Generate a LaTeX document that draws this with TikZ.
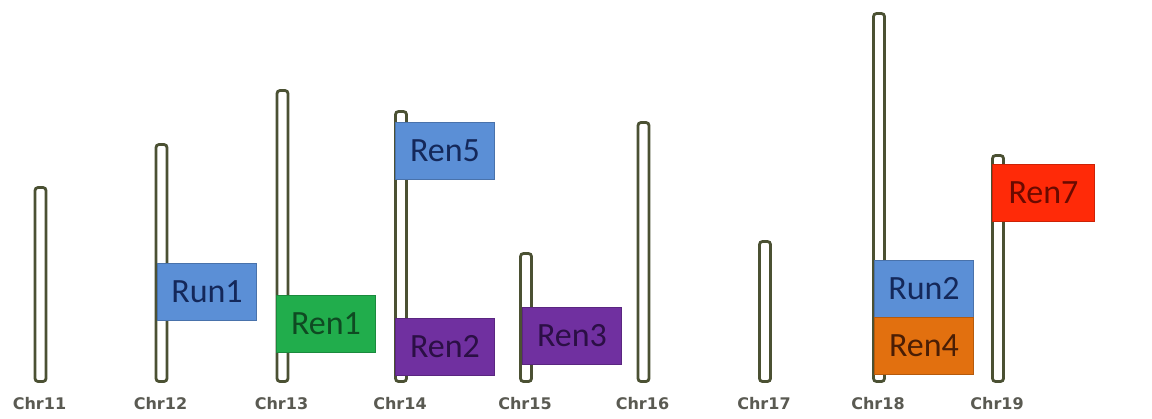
\documentclass[tikz,border=0pt]{standalone}
\usepackage{fontspec}
\newfontfamily\boxfont{Carlito}
\newfontfamily\lblfont{DejaVu Sans}
\definecolor{chromline}{HTML}{4B5133}
\definecolor{lblgray}{HTML}{5A5A52}
\definecolor{cblue}{HTML}{5B8FD6}
\definecolor{cbluetxt}{HTML}{14285A}
\definecolor{cgreen}{HTML}{21AD4C}
\definecolor{cgreentxt}{HTML}{0F4A22}
\definecolor{cpurple}{HTML}{7030A0}
\definecolor{cpurpletxt}{HTML}{2B0F45}
\definecolor{corange}{HTML}{E2700F}
\definecolor{corangetxt}{HTML}{4A1E05}
\definecolor{cred}{HTML}{FF2A08}
\definecolor{credtxt}{HTML}{6A0A00}
\tikzset{
  chrom/.style={draw=chromline, fill=white, line width=2.8pt, rounded corners=3pt,
    minimum width=11pt, inner sep=0pt},
  chrlabel/.style={font=\lblfont\bfseries\fontsize{16}{16}\selectfont, text=lblgray, inner sep=0pt},
  flagbox/.style={anchor=north west, minimum width=99pt, minimum height=57pt, inner sep=0pt,
    font=\boxfont\fontsize{34}{34}\selectfont, line width=1pt},
  fblue/.style={flagbox, fill=cblue, draw=cblue!80!black, text=cbluetxt},
  fgreen/.style={flagbox, fill=cgreen, draw=cgreen!80!black, text=cgreentxt},
  fpurple/.style={flagbox, fill=cpurple, draw=cpurple!80!black, text=cpurpletxt},
  forange/.style={flagbox, fill=corange, draw=corange!80!black, text=corangetxt},
  fred/.style={flagbox, fill=cred, draw=cred!80!black, text=credtxt},
}
\newcommand{\chromosome}[4]{% name, x centre, top, label
  \pgfmathsetmacro{\chh}{383-#3-3}
  \pgfmathsetmacro{\chy}{(#3+383)/2}
  \node[chrom, minimum height=\chh pt] (#1) at (#2,\chy) {};
  \node[chrlabel] (#1lbl) at (#2-1,403.5) {#4};
}
\begin{document}
\begin{tikzpicture}[x=1pt, y=-1pt]
\useasboundingbox (0,0) rectangle (1152,418);
\fill[white] (0,0) rectangle (1152,418);
% chromosomes
\chromosome{c11}{40.5}{186}{Chr11}
\chromosome{c12}{161.5}{143}{Chr12}
\chromosome{c13}{282.5}{89}{Chr13}
\chromosome{c14}{401}{110}{Chr14}
\chromosome{c15}{526}{252}{Chr15}
\chromosome{c16}{643.5}{121}{Chr16}
\chromosome{c17}{765}{240}{Chr17}
\chromosome{c18}{879}{12}{Chr18}
\chromosome{c19}{998}{154}{Chr19}
% mapped loci
\node[fblue]   (run1) at (157,263) {Run1};
\node[fgreen]  (ren1) at (276,295) {Ren1};
\node[fblue]   (ren5) at (395,122) {Ren5};
\node[fpurple] (ren2) at (395,318) {Ren2};
\node[fpurple] (ren3) at (522,307) {Ren3};
\node[fblue]   (run2) at (874,260) {Run2};
\node[forange] (ren4) at (874,317) {Ren4};
\node[fred, minimum width=102pt] (ren7) at (992,164) {Ren7};
\end{tikzpicture}
\end{document}
